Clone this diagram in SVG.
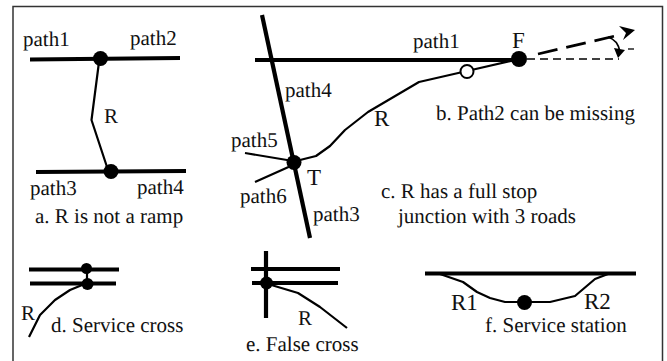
<svg xmlns="http://www.w3.org/2000/svg" width="667" height="361" viewBox="0 0 667 361">
<style>
text{font-family:"Liberation Serif","Times New Roman",serif;font-size:21px;fill:#111;text-rendering:geometricPrecision}
.big{font-size:23px}
.r{fill:none;stroke:#000;stroke-width:4.2}
.t{fill:none;stroke:#000;stroke-width:2.2;stroke-linejoin:round}
.d{fill:#000}
</style>
<rect width="667" height="361" fill="#fff"/>
<path d="M13 361V6.500H662.500V361" fill="none" stroke="#333" stroke-width="1.500"/>
<g id="connectors">
<path class="r" d="M30 59.500L180 58"/>
<path class="r" d="M36 172L186 171"/>
<path class="t" d="M99 62L91.500 120L108 170"/>
<path class="r" d="M255 60H513"/>
<path class="r" d="M262 15L310 238"/>
<path class="t" d="M245 153L293 161M255 182L293 165"/>
<path class="t" d="M296 161L316 156L330 146L345 130L368 112L419 82L467 71L519 59"/>
<path d="M527 59H619" fill="none" stroke="#000" stroke-width="1.300" stroke-dasharray="8 5"/>
<path d="M628 49H634" fill="none" stroke="#000" stroke-width="1.300"/>
<path d="M538 54L615 36" fill="none" stroke="#000" stroke-width="2.800" stroke-dasharray="20 9"/>
<path d="M608 37Q618 40 620 52" fill="none" stroke="#000" stroke-width="1.800"/>
<path class="d" d="M619 26L635 30L623 40L626 33Z"/>
<path class="d" d="M614 48L625 50L618 58Z"/>
<path class="r" d="M29 269.500H119"/>
<path class="r" d="M30 283.500H116"/>
<path class="t" d="M87 268V283"/>
<path class="t" d="M29 337L40 315L55 300L70 290L87 283"/>
<path class="r" d="M251 269H340"/>
<path class="r" d="M252 283H338"/>
<path class="r" d="M266 251V318"/>
<path class="t" d="M268 284L298 293L320 307L347 328"/>
<path class="r" d="M425 273.500H636"/>
<path class="t" d="M440 274L463 282L477 292L490 298L505 302H530L550 302L575 296L595 279L608 274"/>
</g>
<g id="node-a1"><circle class="d" cx="100.500" cy="58.500" r="7.500"/></g>
<g id="node-a2"><circle class="d" cx="111" cy="171.500" r="7.500"/></g>
<g id="node-f"><circle class="d" cx="519" cy="59" r="8"/></g>
<g id="node-o"><circle cx="467" cy="71.500" r="6.500" fill="#fff" stroke="#000" stroke-width="2"/></g>
<g id="node-t"><circle class="d" cx="294" cy="162.500" r="7.500"/></g>
<g id="node-d1"><circle class="d" cx="86.500" cy="268.500" r="5.500"/></g>
<g id="node-d2"><circle class="d" cx="87.500" cy="284" r="6"/></g>
<g id="node-e"><circle class="d" cx="266.500" cy="283" r="6.500"/></g>
<g id="node-s"><circle class="d" cx="524.500" cy="302.500" r="7.500"/></g>
<g id="labels">
<text x="23" y="46">path1</text>
<text x="130" y="45">path2</text>
<text x="30" y="195">path3</text>
<text x="137" y="194">path4</text>
<text x="104" y="123">R</text>
<text x="35" y="223">a. R is not a ramp</text>
<text x="413" y="48">path1</text>
<text class="big" x="512" y="48">F</text>
<text x="285" y="97">path4</text>
<text class="big" x="374" y="126">R</text>
<text x="436" y="120">b. Path2 can be missing</text>
<text x="231" y="147">path5</text>
<text x="240" y="203">path6</text>
<text class="big" x="307" y="185">T</text>
<text x="313" y="221">path3</text>
<text x="381" y="198">c. R has a full stop</text>
<text x="398" y="223">junction with 3 roads</text>
<text x="21" y="320">R</text>
<text x="51" y="332">d. Service cross</text>
<text x="298" y="325">R</text>
<text x="246" y="351">e. False cross</text>
<text class="big" x="451" y="310">R1</text>
<text class="big" x="584" y="309">R2</text>
<text x="485" y="332">f. Service station</text>
</g>
</svg>
